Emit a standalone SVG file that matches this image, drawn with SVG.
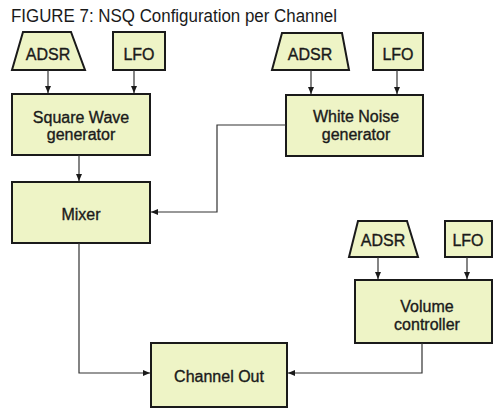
<svg xmlns="http://www.w3.org/2000/svg" width="500" height="414" viewBox="0 0 500 414">
<defs>
<style>
.box{fill:#eef4c6;stroke:#1a1a1a;stroke-width:2}
.lbl{font-family:"Liberation Sans",Arial,sans-serif;font-size:16px;fill:#1a1a1a;stroke:#1a1a1a;stroke-width:0.35;text-anchor:middle}
.ttl{font-family:"Liberation Sans",Arial,sans-serif;font-size:17.5px;fill:#1a1a1a}
.con{fill:none;stroke:#333;stroke-width:1.2}
</style>
<marker id="ah" markerWidth="8" markerHeight="6" refX="7" refY="3" orient="auto" markerUnits="userSpaceOnUse">
<path d="M0,0 L7,3 L0,6 Z" fill="#1a1a1a"/>
</marker>
</defs>
<rect width="500" height="414" fill="#ffffff"/>
<text class="ttl" x="11" y="22" textLength="326" lengthAdjust="spacingAndGlyphs">FIGURE 7: NSQ Configuration per Channel</text>

<g id="adsr1"><polygon class="box" points="23,32 71,32 85,70 12,70"/><text class="lbl" x="48" y="60">ADSR</text></g>
<g id="lfo1"><rect class="box" x="113" y="32" width="52" height="38"/><text class="lbl" x="139" y="60">LFO</text></g>
<g id="square"><rect class="box" x="12" y="94" width="138" height="61"/><text class="lbl" x="81" y="123">Square Wave</text><text class="lbl" x="81" y="140">generator</text></g>

<g id="adsr2"><polygon class="box" points="282,33 342,33 349,70 272,70"/><text class="lbl" x="310" y="60">ADSR</text></g>
<g id="lfo2"><rect class="box" x="373" y="33" width="50" height="37"/><text class="lbl" x="398" y="60">LFO</text></g>
<g id="noise"><rect class="box" x="286" y="95" width="137" height="61"/><text class="lbl" x="356" y="122">White Noise</text><text class="lbl" x="356" y="140">generator</text></g>

<g id="mixer"><rect class="box" x="12" y="182" width="138" height="61"/><text class="lbl" x="81" y="220">Mixer</text></g>

<g id="adsr3"><polygon class="box" points="358,221 407,221 418,257 349,257"/><text class="lbl" x="383" y="246">ADSR</text></g>
<g id="lfo3"><rect class="box" x="445" y="221" width="47" height="36"/><text class="lbl" x="468" y="246">LFO</text></g>
<g id="volume"><rect class="box" x="355" y="280" width="137" height="63"/><text class="lbl" x="427" y="312">Volume</text><text class="lbl" x="427" y="330">controller</text></g>

<g id="out"><rect class="box" x="151" y="343" width="136" height="64"/><text class="lbl" x="219" y="382">Channel Out</text></g>

<g id="connectors">
<path class="con" d="M48,70 V93" marker-end="url(#ah)"/>
<path class="con" d="M134,70 V93" marker-end="url(#ah)"/>
<path class="con" d="M311,70 V94" marker-end="url(#ah)"/>
<path class="con" d="M397,70 V94" marker-end="url(#ah)"/>
<path class="con" d="M79,155 V181" marker-end="url(#ah)"/>
<path class="con" d="M286,125 H217 V212 H151" marker-end="url(#ah)"/>
<path class="con" d="M79,243 V373 H150" marker-end="url(#ah)"/>
<path class="con" d="M378,257 V279" marker-end="url(#ah)"/>
<path class="con" d="M467,257 V279" marker-end="url(#ah)"/>
<path class="con" d="M422,343 V373 H288" marker-end="url(#ah)"/>
</g>
</svg>
